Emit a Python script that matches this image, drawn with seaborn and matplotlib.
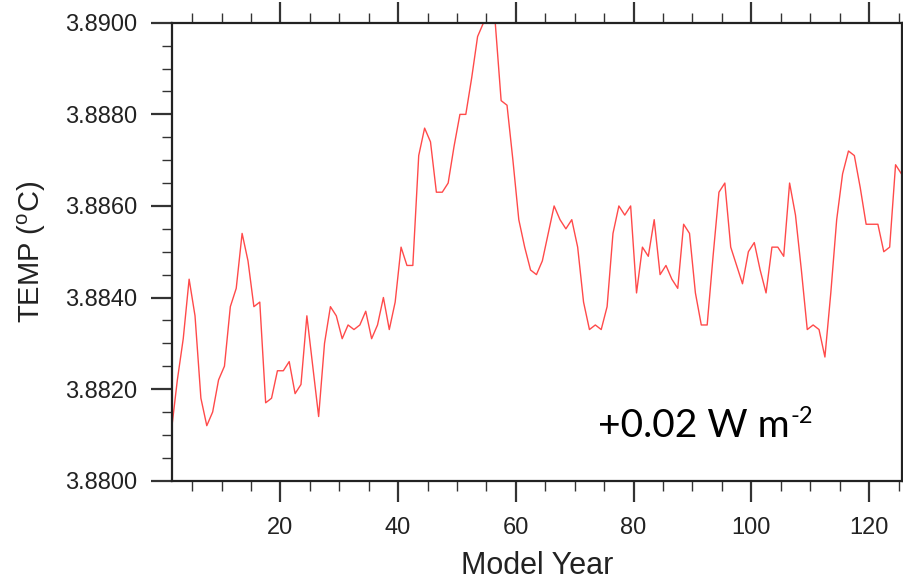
import numpy as np
import pandas as pd
import matplotlib
matplotlib.use("Agg")
import matplotlib.pyplot as plt
from matplotlib.ticker import MultipleLocator, FormatStrFormatter
import seaborn as sns

# ---- data ----
model_year = np.arange(1, 126) + 0.5
temp = [
    3.8811, 3.8822, 3.8831, 3.8844, 3.8836, 3.8818, 3.8812, 3.8815, 3.8822, 3.8825,
    3.8838, 3.8842, 3.8854, 3.8848, 3.8838, 3.8839, 3.8817, 3.8818, 3.8824, 3.8824,
    3.8826, 3.8819, 3.8821, 3.8836, 3.8825, 3.8814, 3.8830, 3.8838, 3.8836, 3.8831,
    3.8834, 3.8833, 3.8834, 3.8837, 3.8831, 3.8834, 3.8840, 3.8833, 3.8839, 3.8851,
    3.8847, 3.8847, 3.8871, 3.8877, 3.8874, 3.8863, 3.8863, 3.8865, 3.8873, 3.8880,
    3.8880, 3.8888, 3.8897, 3.8900, 3.8901, 3.8900, 3.8883, 3.8882, 3.8870, 3.8857,
    3.8851, 3.8846, 3.8845, 3.8848, 3.8854, 3.8860, 3.8857, 3.8855, 3.8857, 3.8851,
    3.8839, 3.8833, 3.8834, 3.8833, 3.8838, 3.8854, 3.8860, 3.8858, 3.8860, 3.8841,
    3.8851, 3.8849, 3.8857, 3.8845, 3.8847, 3.8844, 3.8842, 3.8856, 3.8854, 3.8841,
    3.8834, 3.8834, 3.8849, 3.8863, 3.8865, 3.8851, 3.8847, 3.8843, 3.8850, 3.8852,
    3.8846, 3.8841, 3.8851, 3.8851, 3.8849, 3.8865, 3.8858, 3.8846, 3.8833, 3.8834,
    3.8833, 3.8827, 3.8841, 3.8857, 3.8867, 3.8872, 3.8871, 3.8864, 3.8856, 3.8856,
    3.8856, 3.8850, 3.8851, 3.8869, 3.8867,
]
x_ticks = [20, 40, 60, 80, 100, 120]
y_ticks = [3.880, 3.882, 3.884, 3.886, 3.888, 3.890]
x_label = "Model Year"
y_label = r"TEMP ($^{\mathrm{o}}$C)"
annotation = "+0.02 W m"
annotation_sup = "-2"

df = pd.DataFrame({"year": model_year, "temp": temp})

sns.set_style("white")
plt.rcParams["font.family"] = ["Liberation Sans", "DejaVu Sans"]
plt.rcParams["mathtext.fontset"] = "custom"
plt.rcParams["mathtext.rm"] = "Liberation Sans"

fig = plt.figure(figsize=(9.04, 5.79), dpi=100)
ax = fig.add_axes([0.1900, 0.1699, 0.8075, 0.7907])

sns.lineplot(data=df, x="year", y="temp", ax=ax, color="#ff4a4a", linewidth=1.0)

ax.set_xlim(1.55, 125.55)
ax.set_ylim(3.880, 3.890)
ax.set_xticks(x_ticks)
ax.set_yticks(y_ticks)
ax.xaxis.set_minor_locator(MultipleLocator(5))
ax.yaxis.set_minor_locator(MultipleLocator(0.0005))
ax.yaxis.set_major_formatter(FormatStrFormatter("%.4f"))

for s in ax.spines.values():
    s.set_visible(True)
    s.set_color("#222222")
    s.set_linewidth(1.6)

ax.tick_params(which="both", direction="out", top=True, right=True,
               bottom=True, left=True, color="#333333")
ax.tick_params(which="major", length=15, width=1.6, labelsize=17,
               labelcolor="#222222", pad=10)
ax.tick_params(which="minor", length=7, width=1.0)
ax.tick_params(axis="x", which="major", pad=11)

ax.set_xlabel(x_label, fontsize=22, color="#222222")
ax.set_ylabel(y_label, fontsize=21, color="#222222")
ax.xaxis.set_label_coords(0.5, -0.153)
ax.yaxis.set_label_coords(-0.170, 0.5)

t1 = ax.text(0.584, 0.096, annotation, transform=ax.transAxes,
             fontfamily="Lato", fontsize=28, color="black",
             ha="left", va="baseline")
ax.annotate(annotation_sup, xy=(1, 1), xycoords=t1, xytext=(0.5, 1.5),
            textcoords="offset points", fontfamily="Lato", fontsize=17,
            color="black", ha="left", va="top")

fig.savefig("out.png", dpi=100)
